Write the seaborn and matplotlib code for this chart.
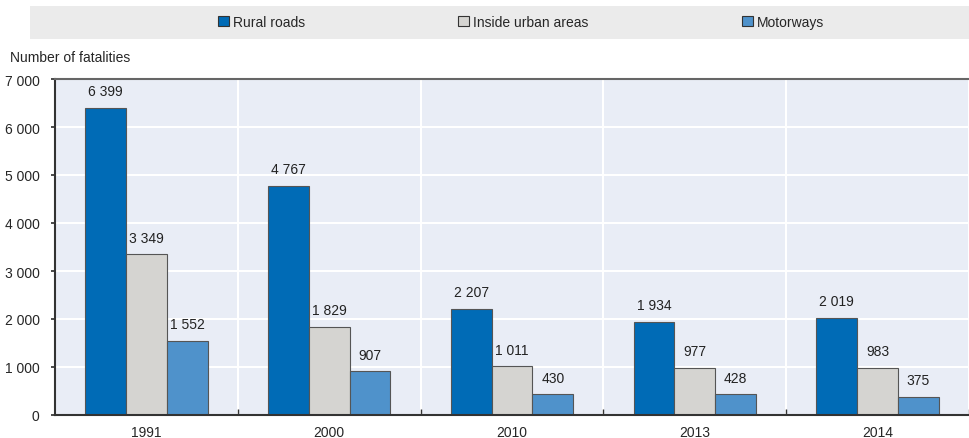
import numpy as np
import pandas as pd
import seaborn as sns
import matplotlib.pyplot as plt
import matplotlib.ticker as ticker
from matplotlib.patches import Rectangle

years = ["1991", "2000", "2010", "2013", "2014"]
series = ["Rural roads", "Inside urban areas", "Motorways"]
rural = [6399, 4767, 2207, 1934, 2019]
urban = [3349, 1829, 1011, 977, 983]
motorways = [1552, 907, 430, 428, 375]
colors = ["#006bb6", "#d5d4d1", "#4f92cb"]

df = pd.DataFrame(
    {
        "year": years * 3,
        "type": [s for s in series for _ in years],
        "value": rural + urban + motorways,
    }
)

sns.set_theme(style="white")
plt.rcParams["font.family"] = ["Liberation Sans Narrow", "Liberation Sans", "DejaVu Sans"]

fig = plt.figure(figsize=(9.69, 4.39), dpi=100)
ax = fig.add_axes([55 / 969, 23 / 439, 1 - 55 / 969, (416 - 80) / 439])
ax.set_facecolor("#e9edf6")

sns.barplot(
    data=df,
    x="year",
    y="value",
    hue="type",
    hue_order=series,
    palette=colors,
    saturation=1,
    width=0.67,
    edgecolor="#555555",
    linewidth=0.8,
    ax=ax,
    legend=False,
)

ax.set_ylim(0, 7000)
ax.set_xlim(-0.5, len(years) - 0.5)
ax.yaxis.set_major_locator(ticker.MultipleLocator(1000))
ax.yaxis.set_major_formatter(ticker.FuncFormatter(lambda v, p: f"{int(v):,}".replace(",", " ")))
ax.set_xticks(np.arange(len(years)) + 0.5, minor=True)
ax.grid(axis="y", color="white", linewidth=1.5)
ax.grid(axis="x", which="minor", color="white", linewidth=1.5)
ax.grid(axis="x", which="major", visible=False)
ax.set_axisbelow(True)
ax.tick_params(axis="y", which="major", left=True, length=3, color="#333333", labelsize=10, pad=8)
ax.tick_params(axis="x", which="major", bottom=False, labelsize=10, pad=1)
ax.tick_params(axis="x", which="minor", bottom=True, direction="in", length=4, color="#333333")
ax.set_xlabel("")
ax.set_ylabel("")

for side in ["left", "bottom", "top"]:
    ax.spines[side].set_visible(True)
    ax.spines[side].set_color("#333333")
    ax.spines[side].set_linewidth(1.5)
ax.spines["top"].set_color("#666666")
ax.spines["right"].set_visible(False)

for container in ax.containers:
    labels = [f"{int(b.get_height()):,}".replace(",", " ") for b in container]
    ax.bar_label(container, labels=labels, padding=7, fontsize=10, color="#222222")

fig.text(10 / 969, 1 - 58 / 439, "Number of fatalities", fontsize=10, va="center", ha="left")

# legend band
fig.patches.append(
    Rectangle((30 / 969, 1 - 40 / 439), 1 - 30 / 969, 33 / 439,
              transform=fig.transFigure, facecolor="#ebebeb", edgecolor="none", zorder=0)
)
handles = [Rectangle((0, 0), 1, 1, facecolor=c, edgecolor="#333333", linewidth=0.8) for c in colors]
fig.legend(
    handles,
    series,
    loc="center",
    bbox_to_anchor=(521 / 969, 1 - 23 / 439),
    ncol=3,
    frameon=False,
    fontsize=10,
    handlelength=0.8,
    handleheight=0.8,
    handletextpad=0.3,
    columnspacing=11,
)

fig.savefig("out.png", dpi=100)
